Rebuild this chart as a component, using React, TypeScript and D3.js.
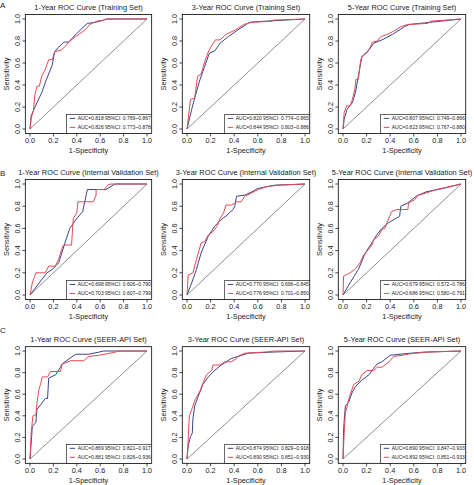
import React from 'react';
import * as d3 from 'd3';

type Pt = [number, number];

const titles = [
  '1-Year ROC Curve (Training Set)',
  '3-Year ROC Curve (Training Set)',
  '5-Year ROC Curve (Training Set)',
  '1-Year ROC Curve (Internal Validation Set)',
  '3-Year ROC Curve (Internal Validation Set)',
  '5-Year ROC Curve (Internal Validation Set)',
  '1-Year ROC Curve (SEER-API Set)',
  '3-Year ROC Curve (SEER-API Set)',
  '5-Year ROC Curve (SEER-API Set)',
];
const panelLetters = ['A', 'B', 'C'];
const tickValues = [0, 0.2, 0.4, 0.6, 0.8, 1.0];
const tickLabels = ['0.0', '0.2', '0.4', '0.6', '0.8', '1.0'];
const xLabel = '1-Specificity';
const yLabel = 'Sensitivity';

const blueLegend = [
  'AUC=0.818 95%CI: 0.769~0.867',
  'AUC=0.820 95%CI: 0.774~0.865',
  'AUC=0.807 95%CI: 0.749~0.866',
  'AUC=0.698 95%CI: 0.606~0.790',
  'AUC=0.770 95%CI: 0.696~0.845',
  'AUC=0.679 95%CI: 0.572~0.786',
  'AUC=0.869 95%CI: 0.821~0.917',
  'AUC=0.874 95%CI: 0.829~0.918',
  'AUC=0.890 95%CI: 0.847~0.933',
];
const redLegend = [
  'AUC=0.826 95%CI: 0.773~0.878',
  'AUC=0.844 95%CI: 0.803~0.886',
  'AUC=0.823 95%CI: 0.767~0.880',
  'AUC=0.703 95%CI: 0.607~0.799',
  'AUC=0.776 95%CI: 0.701~0.850',
  'AUC=0.686 95%CI: 0.580~0.791',
  'AUC=0.881 95%CI: 0.826~0.936',
  'AUC=0.890 95%CI: 0.851~0.930',
  'AUC=0.892 95%CI: 0.851~0.933',
];

// Training set
const train1Blue: Pt[] = [[0,0],[0.01,0.12],[0.06,0.24],[0.1,0.33],[0.14,0.45],[0.19,0.58],[0.21,0.7],[0.24,0.74],[0.29,0.79],[0.33,0.79],[0.4,0.87],[0.49,0.96],[0.56,0.97],[0.63,0.99],[0.66,1],[1,1]];
const train1Red: Pt[] = [[0,0],[0.01,0.1],[0.03,0.17],[0.04,0.3],[0.06,0.39],[0.08,0.39],[0.1,0.48],[0.13,0.54],[0.16,0.63],[0.19,0.63],[0.21,0.7],[0.27,0.72],[0.3,0.75],[0.34,0.8],[0.39,0.84],[0.43,0.87],[0.47,0.9],[0.51,0.95],[0.57,0.98],[0.63,0.99],[0.65,1],[1,1]];
const train3Blue: Pt[] = [[0,0],[0.04,0.18],[0.065,0.28],[0.11,0.45],[0.15,0.57],[0.19,0.69],[0.235,0.71],[0.28,0.78],[0.35,0.84],[0.43,0.9],[0.53,0.97],[0.66,0.98],[1,1]];
const train3Red: Pt[] = [[0,0],[0.01,0.09],[0.03,0.27],[0.065,0.28],[0.09,0.48],[0.12,0.5],[0.15,0.61],[0.18,0.7],[0.21,0.76],[0.24,0.81],[0.28,0.81],[0.33,0.86],[0.41,0.9],[0.48,0.95],[0.55,0.97],[0.72,0.98],[0.73,0.99],[1,1]];
const train5Blue: Pt[] = [[0,0],[0.01,0.09],[0.035,0.18],[0.08,0.24],[0.105,0.33],[0.13,0.48],[0.16,0.66],[0.2,0.69],[0.26,0.78],[0.33,0.81],[0.42,0.86],[0.52,0.93],[0.56,0.95],[0.74,0.97],[1,1]];
const train5Red: Pt[] = [[0,0],[0.01,0.15],[0.03,0.21],[0.06,0.21],[0.08,0.27],[0.1,0.36],[0.11,0.45],[0.13,0.45],[0.15,0.63],[0.18,0.68],[0.22,0.72],[0.25,0.79],[0.29,0.8],[0.32,0.84],[0.375,0.86],[0.43,0.89],[0.49,0.93],[0.545,0.95],[0.72,0.96],[0.74,0.98],[1,1]];

// Internal validation set
const valid1Blue: Pt[] = [[0,0],[0.145,0.2],[0.19,0.23],[0.245,0.29],[0.29,0.44],[0.34,0.6],[0.4,0.69],[0.45,0.75],[0.49,0.95],[0.65,0.95],[0.71,0.99],[0.73,1],[1,1]];
const valid1Red: Pt[] = [[0,0],[0.02,0.11],[0.05,0.2],[0.13,0.2],[0.16,0.26],[0.215,0.26],[0.245,0.32],[0.27,0.41],[0.285,0.45],[0.355,0.45],[0.37,0.69],[0.4,0.74],[0.41,0.84],[0.54,0.84],[0.565,0.9],[0.565,0.95],[0.635,0.95],[0.665,0.99],[0.69,1],[1,1]];
const valid3Blue: Pt[] = [[0,0],[0.04,0.11],[0.08,0.23],[0.12,0.38],[0.18,0.53],[0.235,0.62],[0.29,0.68],[0.33,0.71],[0.39,0.77],[0.405,0.8],[0.42,0.89],[0.49,0.9],[0.55,0.93],[0.6,0.96],[0.745,0.99],[1,1]];
const valid3Red: Pt[] = [[0,0],[0.01,0.18],[0.05,0.2],[0.08,0.32],[0.12,0.47],[0.15,0.48],[0.18,0.54],[0.22,0.57],[0.26,0.63],[0.28,0.69],[0.31,0.74],[0.33,0.81],[0.38,0.81],[0.42,0.84],[0.46,0.84],[0.49,0.89],[0.55,0.92],[0.6,0.95],[0.69,0.98],[0.8,0.99],[1,1]];
const valid5Blue: Pt[] = [[0,0],[0.06,0.11],[0.13,0.23],[0.19,0.38],[0.245,0.47],[0.285,0.54],[0.33,0.6],[0.385,0.65],[0.48,0.71],[0.49,0.8],[0.55,0.83],[0.62,0.89],[0.705,0.93],[0.85,0.96],[1,1]];
const valid5Red: Pt[] = [[0,0],[0.005,0.17],[0.06,0.2],[0.1,0.23],[0.145,0.29],[0.17,0.35],[0.2,0.39],[0.245,0.45],[0.26,0.5],[0.3,0.53],[0.33,0.59],[0.355,0.6],[0.375,0.66],[0.4,0.72],[0.41,0.75],[0.455,0.77],[0.55,0.77],[0.555,0.83],[0.61,0.86],[0.635,0.9],[0.68,0.91],[0.79,0.95],[1,1]];

// SEER-API set
const seer1Blue: Pt[] = [[0,0],[0.02,0.3],[0.05,0.34],[0.06,0.46],[0.09,0.5],[0.13,0.56],[0.15,0.56],[0.16,0.75],[0.22,0.78],[0.26,0.85],[0.275,0.88],[0.35,0.94],[0.39,0.97],[0.5,0.97],[0.59,0.99],[0.63,1],[1,1]];
const seer1Red: Pt[] = [[0,0],[0.01,0.24],[0.025,0.4],[0.05,0.41],[0.06,0.52],[0.075,0.64],[0.09,0.69],[0.105,0.76],[0.15,0.76],[0.175,0.81],[0.26,0.81],[0.275,0.88],[0.35,0.91],[0.46,0.91],[0.5,0.95],[0.59,0.96],[0.73,0.99],[0.75,1],[1,1]];
const seer3Blue: Pt[] = [[0,0],[0.01,0.12],[0.03,0.21],[0.045,0.24],[0.05,0.37],[0.065,0.49],[0.095,0.58],[0.135,0.69],[0.18,0.76],[0.235,0.82],[0.29,0.87],[0.375,0.93],[0.52,0.98],[0.72,0.99],[1,1]];
const seer3Red: Pt[] = [[0,0],[0.01,0.18],[0.02,0.4],[0.04,0.46],[0.07,0.55],[0.11,0.63],[0.135,0.7],[0.165,0.78],[0.21,0.82],[0.22,0.87],[0.28,0.87],[0.32,0.9],[0.375,0.9],[0.42,0.93],[0.43,0.95],[0.49,0.98],[0.66,0.99],[0.745,1],[1,1]];
const seer5Blue: Pt[] = [[0,0],[0.005,0.27],[0.015,0.43],[0.02,0.49],[0.05,0.53],[0.075,0.61],[0.105,0.67],[0.16,0.73],[0.22,0.78],[0.26,0.84],[0.29,0.88],[0.33,0.9],[0.4,0.96],[0.52,0.975],[0.69,0.99],[1,1]];
const seer5Red: Pt[] = [[0,0],[0.01,0.24],[0.02,0.43],[0.035,0.49],[0.055,0.58],[0.075,0.64],[0.09,0.69],[0.135,0.72],[0.16,0.78],[0.205,0.82],[0.26,0.82],[0.29,0.85],[0.33,0.85],[0.39,0.9],[0.43,0.95],[0.5,0.96],[0.575,0.975],[0.72,0.99],[1,1]];

const blueCurves = [train1Blue, train3Blue, train5Blue, valid1Blue, valid3Blue, valid5Blue, seer1Blue, seer3Blue, seer5Blue];
const redCurves = [train1Red, train3Red, train5Red, valid1Red, valid3Red, valid5Red, seer1Red, seer3Red, seer5Red];

// Layout (pixel positions of data value 0 and 1)
const colX0 = [30, 187, 343];
const colX1 = [147, 305, 461];
const rowY1 = [19, 184, 351];
const rowY0 = [129, 295, 459];
const letterY = [8, 176, 333];

const BLUE = '#3a4589';
const RED = '#e44a55';
const INK = '#1a1a1a';
const FONT = '"Liberation Sans", Arial, Helvetica, sans-serif';

function Panel({ i }: { i: number }) {
  const c = i % 3;
  const r = Math.floor(i / 3);
  const x = d3.scaleLinear().domain([0, 1]).range([colX0[c], colX1[c]]);
  const y = d3.scaleLinear().domain([0, 1]).range([rowY0[r], rowY1[r]]);
  const bl = x(-0.04), br = x(1.04), bt = y(1.04), bb = y(-0.04);
  const line = d3.line<Pt>().x(d => x(d[0])).y(d => y(d[1]));
  const clipId = `clip${i}`;
  const legW = 85, legH = 19;
  const lx = br - legW, ly = bb - legH;
  return (
    <g>
      <defs>
        <clipPath id={clipId}>
          <rect x={bl} y={bt} width={br - bl} height={bb - bt} />
        </clipPath>
      </defs>
      <text x={(bl + br) / 2} y={bt - 5} fontSize={7.4} textAnchor="middle" fontFamily={FONT} fill={INK}>{titles[i]}</text>
      <line x1={x(0)} y1={y(0)} x2={x(1)} y2={y(1)} stroke="#333" strokeWidth={0.55} />
      <g clipPath={`url(#${clipId})`}>
        <path d={line(blueCurves[i]) || ''} fill="none" stroke={BLUE} strokeWidth={1} />
        <path d={line(redCurves[i]) || ''} fill="none" stroke={RED} strokeWidth={1} />
      </g>
      <rect x={bl} y={bt} width={br - bl} height={bb - bt} fill="none" stroke="#000" strokeWidth={0.8} />
      {tickValues.map((t, k) => (
        <g key={`xt${k}`}>
          <line x1={x(t)} x2={x(t)} y1={bb} y2={bb + 3} stroke="#000" strokeWidth={0.7} />
          <text x={x(t)} y={bb + 10} fontSize={7.3} textAnchor="middle" fontFamily={FONT} fill={INK}>{tickLabels[k]}</text>
          <line x1={bl} x2={bl - 3} y1={y(t)} y2={y(t)} stroke="#000" strokeWidth={0.7} />
          <text transform={`translate(${bl - 5},${y(t)}) rotate(-90)`} fontSize={7.3} textAnchor="middle" fontFamily={FONT} fill={INK}>{tickLabels[k]}</text>
        </g>
      ))}
      <text x={(bl + br) / 2} y={bb + 20} fontSize={7.3} textAnchor="middle" fontFamily={FONT} fill={INK}>{xLabel}</text>
      <text transform={`translate(${bl - 16.5},${(bt + bb) / 2}) rotate(-90)`} fontSize={7.3} textAnchor="middle" fontFamily={FONT} fill={INK}>{yLabel}</text>
      <rect x={lx} y={ly} width={legW} height={legH} fill="#fff" stroke="#000" strokeWidth={0.6} />
      <g clipPath={`url(#${clipId})`}>
        <line x1={lx + 3} x2={lx + 8.5} y1={ly + 4} y2={ly + 4} stroke={BLUE} strokeWidth={1} />
        <line x1={lx + 3} x2={lx + 8.5} y1={ly + 13} y2={ly + 13} stroke={RED} strokeWidth={1} />
        <text x={lx + 11} y={ly + 5.7} fontSize={5} fontFamily={FONT} fill={INK}>{blueLegend[i]}</text>
        <text x={lx + 11} y={ly + 14.7} fontSize={5} fontFamily={FONT} fill={INK}>{redLegend[i]}</text>
      </g>
      {c === 0 && (
        <text x={0} y={letterY[r]} fontSize={8} fontFamily={FONT} fill={INK}>{panelLetters[r]}</text>
      )}
    </g>
  );
}

export default function App() {
  return (
    <svg width={474} height={485} style={{ position: 'absolute', left: 0, top: 0, display: 'block', background: '#fff' }}>
      <rect x={0} y={0} width={474} height={485} fill="#fff" />
      {titles.map((_, i) => <Panel key={i} i={i} />)}
    </svg>
  );
}
